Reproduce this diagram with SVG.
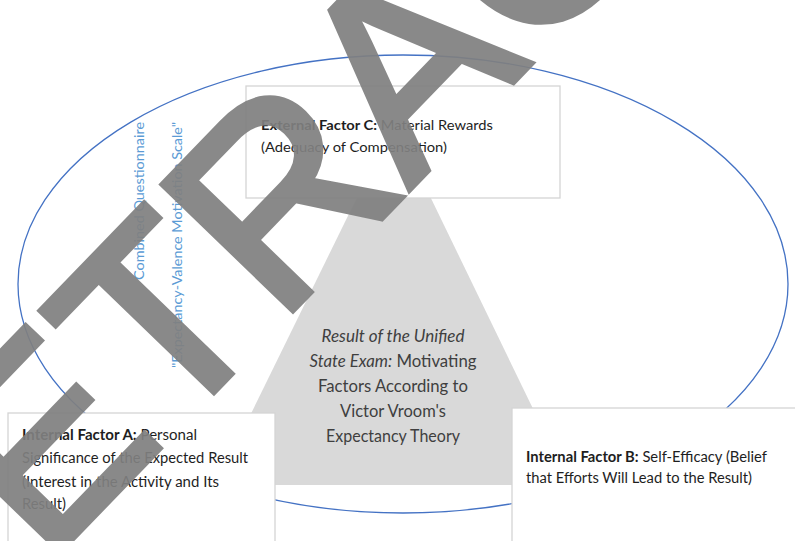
<svg xmlns="http://www.w3.org/2000/svg" width="795" height="541" viewBox="0 0 795 541">
<style>
.box{fill:#ffffff;stroke:#d4d4d4;stroke-width:1.3}
.t{font-family:Lato,"Open Sans","Liberation Sans",sans-serif;fill:#1e1e1e}
.c{font-family:Lato,"Open Sans","Liberation Sans",sans-serif;fill:#3f3f3f;font-size:16.5px;text-anchor:middle}
.b{font-weight:bold}
.i{font-style:italic}
.blue{font-family:Lato,"Open Sans","Liberation Sans",sans-serif;fill:#5b9bd5;font-size:12.5px}
.wm{font-family:"Liberation Sans",Arial,sans-serif;fill:#808080;stroke:#808080;stroke-width:7;stroke-linejoin:miter}
</style>
<rect x="0" y="0" width="795" height="541" fill="#ffffff"/>
<g id="connectors">
<ellipse cx="403" cy="284" rx="385" ry="229" fill="none" stroke="#4472c4" stroke-width="1.3"/>
</g>
<g id="node-center">
<polygon points="394,122 216,485 570,485" fill="#d9d9d9"/>
<text class="c" x="393" y="342" textLength="143" lengthAdjust="spacingAndGlyphs"><tspan class="i">Result of the Unified</tspan></text>
<text class="c" x="393" y="367" textLength="167" lengthAdjust="spacingAndGlyphs"><tspan class="i">State Exam:</tspan> Motivating</text>
<text class="c" x="393" y="392" textLength="150" lengthAdjust="spacingAndGlyphs">Factors According to</text>
<text class="c" x="393" y="417" textLength="106" lengthAdjust="spacingAndGlyphs">Victor Vroom's</text>
<text class="c" x="393" y="442" textLength="134" lengthAdjust="spacingAndGlyphs">Expectancy Theory</text>
</g>
<g id="node-c">
<rect class="box" x="246" y="86" width="314" height="112"/>
<text class="t" x="261" y="130" font-size="14" textLength="232" lengthAdjust="spacingAndGlyphs"><tspan class="b">External Factor C:</tspan> Material Rewards</text>
<text class="t" x="261" y="152" font-size="14" textLength="186" lengthAdjust="spacingAndGlyphs">(Adequacy of Compensation)</text>
</g>
<g id="node-a">
<rect class="box" x="8" y="413" width="267" height="140"/>
<text class="t" x="22" y="440" font-size="14.5" textLength="175" lengthAdjust="spacingAndGlyphs"><tspan class="b">Internal Factor A:</tspan> Personal</text>
<text class="t" x="22" y="463" font-size="14.5" textLength="226" lengthAdjust="spacingAndGlyphs">Significance of the Expected Result</text>
<text class="t" x="22" y="487" font-size="14.5" textLength="197" lengthAdjust="spacingAndGlyphs">(Interest in the Activity and Its</text>
<text class="t" x="22" y="509" font-size="14.5" textLength="44" lengthAdjust="spacingAndGlyphs">Result)</text>
</g>
<g id="node-b">
<rect class="box" x="512" y="408" width="290" height="145"/>
<text class="t" x="526" y="462" font-size="14.5" textLength="241" lengthAdjust="spacingAndGlyphs"><tspan class="b">Internal Factor B:</tspan> Self-Efficacy (Belief</text>
<text class="t" x="526" y="483" font-size="14.5" textLength="226" lengthAdjust="spacingAndGlyphs">that Efforts Will Lead to the Result)</text>
</g>
<g id="label-questionnaire">
<text class="blue" x="0" y="0" transform="translate(144,280) rotate(-90)" textLength="158" lengthAdjust="spacingAndGlyphs">Combined Questionnaire</text>
<text class="blue" x="0" y="0" transform="translate(182,368) rotate(-90)" textLength="246" lengthAdjust="spacingAndGlyphs">"Expectancy-Valence Motivation Scale"</text>
</g>
<g id="watermark" opacity="0.92">
<text class="wm" x="0" y="0" font-size="262" transform="translate(-86,702) rotate(-46)">RETRACTED</text>
</g>
</svg>
